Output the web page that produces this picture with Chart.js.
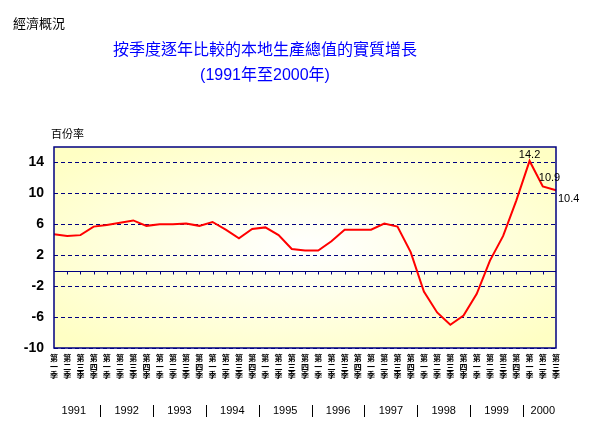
<!DOCTYPE html>
<html lang="zh-Hant">
<head>
<meta charset="UTF-8">
<title>按季度逐年比較的本地生產總值的實質增長</title>
<script src="https://cdn.jsdelivr.net/npm/chart.js"></script>
<style>
  body { margin: 0; background: #fff; }
  #wrap { position: relative; width: 590px; height: 434px;
          font-family: Arial, "Liberation Sans", "Noto Sans CJK TC", sans-serif; }
  #wrap canvas { position: absolute; left: 0; top: 0; }
  .txt { position: absolute; white-space: nowrap; }
</style>
</head>
<body>
<div id="wrap">
  <canvas id="gdpChart" width="590" height="434"></canvas>
  <div class="txt" style="left:13px;top:13px;font-size:13px;">經濟概況</div>
  <div class="txt" style="left:0;width:530px;top:37px;text-align:center;color:#0000ff;font-size:16px;line-height:25px;">按季度逐年比較的本地生產總值的實質增長<br>(1991年至2000年)</div>
  <div class="txt" style="left:51px;top:125px;font-size:11px;">百份率</div>
</div>

<script>
// data
const years = ['1991', '1992', '1993', '1994', '1995', '1996', '1997', '1998', '1999', '2000'];
const quarterNames = ['一', '二', '三', '四'];
const growth = [4.7, 4.5, 4.6, 5.7, 5.9, 6.2, 6.5, 5.8, 6.0, 6.0,
                6.1, 5.8, 6.3, 5.3, 4.2, 5.4, 5.6, 4.6, 2.8, 2.6,
                2.6, 3.8, 5.3, 5.3, 5.3, 6.1, 5.7, 2.4, -2.7, -5.4,
                -7.0, -5.8, -3.0, 1.3, 4.5, 9.1, 14.2, 10.9, 10.4];
const yTicks = [-10, -6, -2, 2, 6, 10, 14];
const labelledPoints = [36, 37, 38];

// one vertical label per quarter: 第 / 一 / 季
const quarterLabels = [];
years.forEach(function(y) {
    quarterNames.forEach(function(q) { quarterLabels.push(['第', q, '季']); });
});
quarterLabels.length = growth.length;

const FONT = 'Arial, "Liberation Sans", "Noto Sans CJK TC", sans-serif';

const decor = {
    id: 'decor',
    beforeDraw(chart) {
        const {ctx, chartArea: a} = chart;
        const w = a.right - a.left, h = a.bottom - a.top;
        ctx.save();
        ctx.beginPath();
        ctx.rect(a.left, a.top, w, h);
        ctx.clip();
        ctx.translate(a.left + w / 2, a.top + h / 2);
        ctx.scale(w / 2, h / 2);
        const g = ctx.createRadialGradient(0, 0, 0, 0, 0, 1.3);
        g.addColorStop(0, '#ffffff');
        g.addColorStop(1, '#ffffc4');
        ctx.fillStyle = g;
        ctx.fillRect(-1, -1, 2, 2);
        ctx.restore();
    },
    beforeDatasetsDraw(chart) {
        const {ctx, chartArea: a, scales: {x, y}} = chart;
        const y0 = Math.round(y.getPixelForValue(0)) + 0.5;
        ctx.save();
        ctx.strokeStyle = '#000080';
        ctx.lineWidth = 1;
        ctx.beginPath();
        ctx.moveTo(a.left, y0);
        ctx.lineTo(a.right, y0);
        for (let i = 1; i < growth.length - 1; i++) {
            const px = Math.round(x.getPixelForValue(i)) + 0.5;
            ctx.moveTo(px, y0);
            ctx.lineTo(px, y0 + 3);
        }
        ctx.stroke();
        ctx.restore();
    },
    afterDatasetsDraw(chart) {
        const {ctx, chartArea: a, scales: {x}} = chart;
        ctx.save();
        // plot frame
        ctx.strokeStyle = '#000080';
        ctx.lineWidth = 1.5;
        ctx.strokeRect(a.left, a.top, a.right - a.left, a.bottom - a.top);

        // values on the last points
        const pts = chart.getDatasetMeta(0).data;
        ctx.fillStyle = '#000';
        ctx.font = '11px ' + FONT;
        labelledPoints.forEach(function(i, k) {
            const p = pts[i];
            const txt = growth[i].toFixed(1);
            if (k === 0) {
                ctx.textAlign = 'center'; ctx.textBaseline = 'bottom';
                ctx.fillText(txt, p.x, p.y);
            } else if (k === 1) {
                ctx.textAlign = 'left'; ctx.textBaseline = 'bottom';
                ctx.fillText(txt, p.x - 4, p.y - 3);
            } else {
                ctx.textAlign = 'left'; ctx.textBaseline = 'top';
                ctx.fillText(txt, p.x + 2, p.y + 3);
            }
        });

        // year row with separators
        ctx.font = '11px ' + FONT;
        ctx.textAlign = 'center';
        ctx.textBaseline = 'middle';
        ctx.strokeStyle = '#000';
        ctx.lineWidth = 1;
        years.forEach(function(yr, i) {
            const first = i * 4;
            const last = Math.min(first + 3, growth.length - 1);
            const cx = (x.getPixelForValue(first) + x.getPixelForValue(last)) / 2;
            ctx.fillText(yr, cx, 411);
            if (last + 1 < growth.length) {
                const sx = Math.round((x.getPixelForValue(last) + x.getPixelForValue(last + 1)) / 2) + 0.5;
                ctx.beginPath();
                ctx.moveTo(sx, 405);
                ctx.lineTo(sx, 417);
                ctx.stroke();
            }
        });
        ctx.restore();
    }
};

new Chart(document.getElementById('gdpChart').getContext('2d'), {
    type: 'line',
    data: {
        labels: quarterLabels,
        datasets: [{
            data: growth,
            borderColor: '#ff0000',
            borderWidth: 2,
            pointRadius: 0,
            tension: 0,
            fill: false
        }]
    },
    options: {
        responsive: false,
        animation: false,
        layout: { padding: { top: 147, left: 0, right: 34, bottom: 0 } },
        plugins: { legend: { display: false }, tooltip: { enabled: false } },
        scales: {
            x: {
                offset: false,
                grid: { display: false, drawTicks: false },
                border: { display: false },
                ticks: {
                    autoSkip: false, maxRotation: 0, minRotation: 0,
                    color: '#000', padding: 7,
                    font: { size: 8, weight: 'bold', family: FONT, lineHeight: 1.05 }
                },
                afterFit(s) { s.height = 86; }
            },
            y: {
                min: -10,
                max: 16,
                afterBuildTicks(s) { s.ticks = yTicks.map(v => ({ value: v })); },
                grid: { color: '#000080', lineWidth: 1, drawTicks: false },
                border: { display: false, dash: [4, 3] },
                ticks: {
                    color: '#000', padding: 10,
                    font: { size: 14, weight: 'bold', family: FONT }
                },
                afterFit(s) { s.width = 54; }
            }
        }
    },
    plugins: [decor]
});
</script>
</body>
</html>
